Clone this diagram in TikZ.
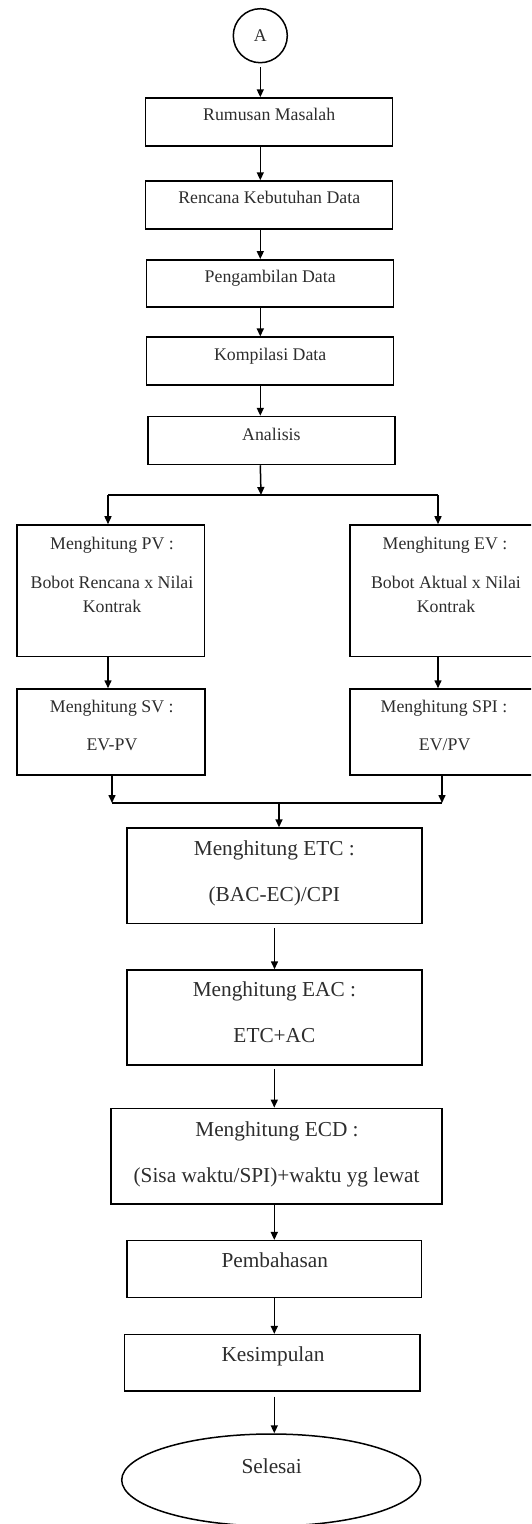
\documentclass[tikz,border=0pt]{standalone}
\usepackage{fontspec}
\setmainfont{Liberation Serif}
\usepackage{tikz}
\usetikzlibrary{positioning}
\usetikzlibrary{arrows.meta}
\usetikzlibrary{shapes.geometric}
\definecolor{ink}{RGB}{45, 45, 45}
\newcommand{\smallfont}{\fontsize{17.8}{23.4}\selectfont}
\newcommand{\bigfont}{\fontsize{21.3}{25}\selectfont}

\begin{document}
\begin{tikzpicture}
				[x=1pt,y=-1pt,every node/.style={inner sep=0pt},
				box/.style={rectangle, draw=black, line width=1.5pt},
				smalltxt/.style={anchor=base, font=\smallfont, text=ink},
				bigtxt/.style={anchor=base, font=\bigfont, text=ink},
				arr/.style={line width=1.5pt, -{Triangle[width=7pt,length=8pt]}}]
				\clip (0,0) rectangle (531,1524);
				% awal
				\node (A) [circle, draw=black, line width=1.5pt, minimum size=54pt, font=\smallfont, text=ink] at (260.3, 35.7) {A};
				\node (rumusan) [box, minimum width=247pt, minimum height=48pt] at (269.2, 122) {};
				\node (rencana) [box, minimum width=247pt, minimum height=48pt] at (269.2, 205) {};
				\node (ambil) [box, minimum width=247pt, minimum height=47pt] at (270.2, 283.3) {};
				\node (kompilasi) [box, minimum width=247pt, minimum height=48pt] at (270.2, 361.2) {};
				\node (analisis) [box, minimum width=247pt, minimum height=48pt] at (271.4, 440.5) {};
				\node (rumusant) [smalltxt] at (269.2, 120.7) {Rumusan Masalah};
				\node (rencanat) [smalltxt] at (269.2, 203.3) {Rencana Kebutuhan Data};
				\node (ambilt) [smalltxt] at (270.2, 282) {Pengambilan Data};
				\node (kompilasit) [smalltxt] at (270.2, 360) {Kompilasi Data};
				\node (analisist) [smalltxt] at (271.4, 440) {Analisis};
				\draw [arr, shorten <=4pt] (A.south) to (A |- rumusan.north);
				\draw [arr] (A |- rumusan.south) to (A |- rencana.north);
				\draw [arr] (A |- rencana.south) to (A |- ambil.north);
				\draw [arr] (A |- ambil.south) to (A |- kompilasi.north);
				\draw [arr] (A |- kompilasi.south) to (A |- analisis.north);
				% cabang PV / EV
				\coordinate (split) at (261, 495);
				\coordinate (splitL) at (108, 495);
				\coordinate (splitR) at (438, 495);
				\node (pv) [box, minimum width=187.5pt, minimum height=131.7pt] at (110.8, 590.8) {};
				\node (ev) [box, minimum width=195pt, minimum height=131.7pt] at (447.5, 590.8) {};
				\node (sv) [box, minimum width=188pt, minimum height=86pt] at (111, 732) {};
				\node (spi) [box, minimum width=195pt, minimum height=86pt] at (447.5, 732) {};
				\node (pvt) [smalltxt] at (112, 549.3) {Menghitung PV :};
				\node (pvb) [smalltxt, anchor=north, align=center] at (112, 576.1) {Bobot Rencana x Nilai\\Kontrak};
				\node (evt) [smalltxt] at (445, 549.3) {Menghitung EV :};
				\node (evb) [smalltxt, anchor=north, align=center] at (446, 576.1) {Bobot Aktual x Nilai\\Kontrak};
				\node (svt) [smalltxt] at (111.8, 712.3) {Menghitung SV :};
				\node (svb) [smalltxt] at (112, 750) {EV-PV};
				\node (spit) [smalltxt] at (444, 712.3) {Menghitung SPI :};
				\node (spib) [smalltxt] at (444.7, 750) {EV/PV};
				\draw [arr] (A |- analisis.south) to (split);
				\draw [line width=1.5pt] (splitL) to (splitR);
				\draw [arr] (splitL) to (splitL |- pv.north);
				\draw [arr] (splitR) to (splitR |- ev.north);
				\draw [arr] (splitL |- pv.south) to (splitL |- sv.north);
				\draw [arr] (splitR |- ev.south) to (splitR |- spi.north);
				% gabung
				\coordinate (mergeL) at (112, 803);
				\coordinate (mergeR) at (442, 803);
				\coordinate (merge) at (279, 803);
				\draw [arr] (mergeL |- sv.south) to (mergeL);
				\draw [arr] (mergeR |- spi.south) to (mergeR);
				\draw [line width=1.5pt] (mergeL) to (mergeR);
				% ETC, EAC, ECD
				\node (etc) [box, minimum width=295pt, minimum height=95.3pt] at (274.5, 875.7) {};
				\node (eac) [box, minimum width=295pt, minimum height=95pt] at (274.3, 1017.5) {};
				\node (ecd) [box, minimum width=331pt, minimum height=95.7pt] at (276.5, 1156.2) {};
				\node (etct) [bigtxt] at (274.3, 855) {Menghitung ETC :};
				\node (etcb) [bigtxt] at (274.3, 901) {(BAC-EC)/CPI};
				\node (eact) [bigtxt] at (274.4, 996.7) {Menghitung EAC :};
				\node (eacb) [bigtxt] at (274.4, 1042.7) {ETC+AC};
				\node (ecdt) [bigtxt] at (277, 1136) {Menghitung ECD :};
				\node (ecdb) [bigtxt] at (276.6, 1182) {(Sisa waktu/SPI)+waktu yg lewat};
				\draw [arr] (merge) to (merge |- etc.north);
				\draw [arr, shorten <=4pt] (etc.south) to (etc.south |- eac.north);
				\draw [arr, shorten <=3pt] (eac.south) to (eac.south |- ecd.north);
				% akhir
				\node (bahas) [box, minimum width=294.6pt, minimum height=56.6pt] at (274.3, 1269) {};
				\node (simpul) [box, minimum width=295.4pt, minimum height=56.3pt] at (272.3, 1362.8) {};
				\node (selesai) [ellipse, draw=black, line width=1.5pt, minimum width=299pt, minimum height=92pt] at (271.2, 1480) {};
				\node (bahast) [bigtxt] at (274.8, 1267.3) {Pembahasan};
				\node (simpult) [bigtxt] at (273, 1361.7) {Kesimpulan};
				\node (selesait) [bigtxt] at (271.7, 1473) {Selesai};
				\draw [arr] (eac.south |- ecd.south) to (eac.south |- bahas.north);
				\draw [arr] (eac.south |- bahas.south) to (eac.south |- simpul.north);
				\draw [arr, shorten <=5pt] (eac.south |- simpul.south) to (eac.south |- selesai.north);
		\end{tikzpicture}
\end{document}
